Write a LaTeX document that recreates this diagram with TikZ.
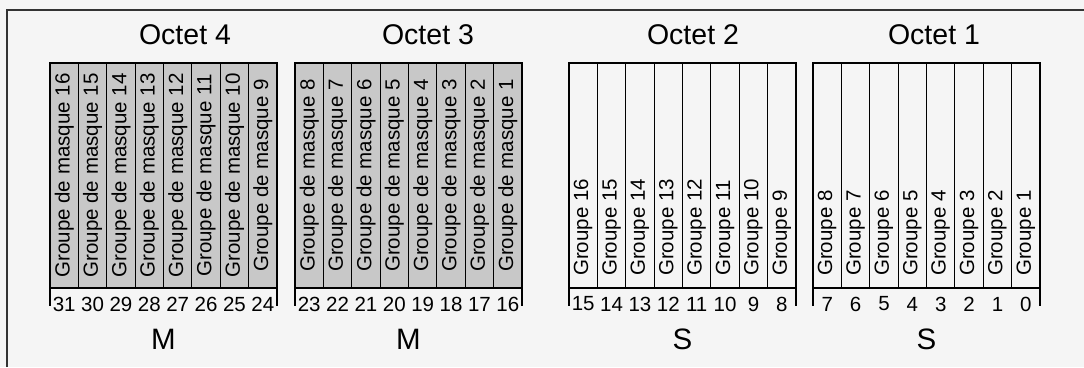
\documentclass[tikz,border=0pt]{standalone}
\usepackage{fontspec}
\setmainfont{Liberation Sans}
\definecolor{panelgray}{HTML}{F5F5F5}
\definecolor{maskgray}{HTML}{C8C8C8}
\tikzset{
  cell/.style={draw=black, line width=1.2pt},
  octettitle/.style={font=\fontsize{28.5}{33}\selectfont},
  bitnum/.style={font=\fontsize{20.5}{24}\selectfont, inner sep=0pt},
  grouplabel/.style={rotate=90, inner sep=0pt, font=\fontsize{20.5}{24}\selectfont},
}
\begin{document}
\begin{tikzpicture}[x=1pt,y=-1pt]
  \fill[panelgray] (0,0) rectangle (1084,367);
  \useasboundingbox (0,0) rectangle (1084,367);
  \draw[line width=1.5pt, black!80] (7,367) -- (7,10) -- (1084,10);
  % one block per octet: left edge, title centre, octet, highest group, letter, mask flag
  \foreach \x/\t/\o/\g/\l/\mask in {50/185/4/16/M/1, 295/428/3/8/M/1, 569/693/2/16/S/0, 813/934/1/8/S/0} {
    \node[octettitle] (title\o) at (\t,35) {Octet \o};
    \foreach \i in {0,...,7} {
      \pgfmathtruncatemacro{\bit}{8*\o-1-\i}
      \pgfmathtruncatemacro{\grp}{\g-\i}
      \ifnum\mask=1
        \draw[cell, fill=maskgray] (\x+\i*28.375,63) rectangle ++(28.375,225);
        \node[grouplabel] (grp\o-\i) at (\x+\i*28.375+14.2,175.5) {Groupe de masque \grp};
      \else
        \draw[cell] (\x+\i*28.375,63) rectangle ++(28.375,225);
        \node[grouplabel, anchor=west] (grp\o-\i) at (\x+\i*28.375+14.2,276) {Groupe \grp};
      \fi
      \node[bitnum] (bit\bit) at (\x+\i*28.375+14.2,304) {\bit};
    }
    \draw[cell] (\x,288) -- (\x,306);
    \draw[cell] (\x+227,288) -- (\x+227,306);
    \node[octettitle, font=\fontsize{29.5}{34}\selectfont] (kind\o) at (\x+113.5,339) {\l};
  }
\end{tikzpicture}
\end{document}
